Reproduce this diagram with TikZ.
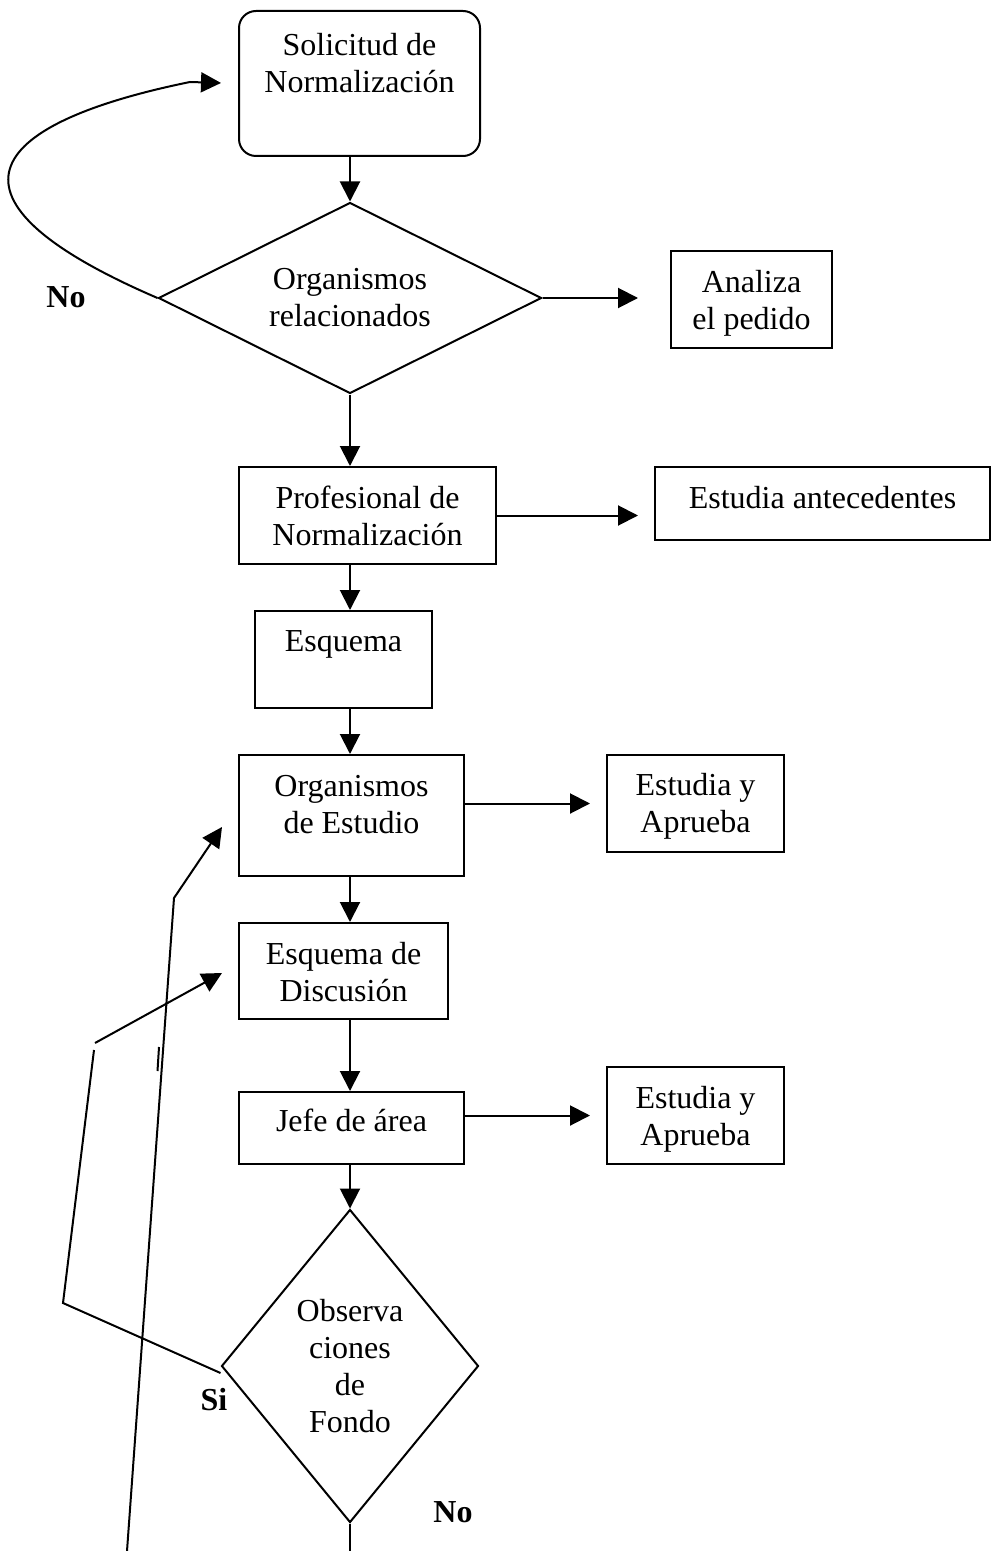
\documentclass[tikz,border=0pt]{standalone}
\usepackage{fontspec}
\setmainfont{Liberation Serif}
\usetikzlibrary{arrows.meta,shapes.geometric}

% box text: width, height, first baseline, lines
\newcommand{\boxtext}[4]{\parbox[c][#2][t]{#1}{\centering\rule{0pt}{#3}#4}}

\begin{document}
\begin{tikzpicture}[x=0.5pt,y=-0.5pt,
  every node/.style={font=\fontsize{16}{18.5}\selectfont},
  box/.style={draw,rectangle,inner sep=0pt,anchor=north west,line width=1pt},
  decision/.style={draw,diamond,inner sep=0pt,align=center,line width=1pt},
  flow/.style={line width=1pt,-{Triangle[length=10pt,width=10pt]}},
  plain/.style={line width=1pt},
  answer/.style={font=\fontsize{16}{18.5}\selectfont\bfseries}]
  \useasboundingbox (0,0) rectangle (990,1551);

  % main column
  \node[box,rounded corners=8.5pt] (sol) at (238,10) {\boxtext{120.5pt}{72.5pt}{22.5pt}{Solicitud de\\Normalización}};
  \node[decision,shape aspect=2,minimum width=191.5pt,minimum height=95.5pt] (d1) at (350,298) {Organismos\\relacionados};
  \node[box] (prof) at (238,466) {\boxtext{128.5pt}{48.5pt}{20.5pt}{Profesional de\\Normalización}};
  \node[box] (esq) at (254,610) {\boxtext{88.5pt}{48.5pt}{20pt}{Esquema}};
  \node[box] (orgE) at (238,754) {\boxtext{112.5pt}{60.5pt}{20.5pt}{Organismos\\de Estudio}};
  \node[box] (disc) at (238,922) {\boxtext{104.5pt}{48pt}{20.5pt}{Esquema de\\Discusión}};
  \node[box] (jefe) at (238,1091) {\boxtext{112.5pt}{36pt}{19.5pt}{Jefe de área}};
  \node[decision,shape aspect=0.82,minimum width=128.5pt,minimum height=156.5pt] (d2) at (350,1366) {Observa\\ciones\\de\\Fondo};

  % side boxes
  \node[box] (ana) at (670,250) {\boxtext{80.5pt}{48.5pt}{21pt}{Analiza\\el pedido}};
  \node[box] (est1) at (654,466) {\boxtext{167.5pt}{36.5pt}{20.5pt}{Estudia antecedentes}};
  \node[box] (est2) at (606,754) {\boxtext{88.5pt}{48.5pt}{20pt}{Estudia y\\Aprueba}};
  \node[box] (est3) at (606,1066) {\boxtext{88.5pt}{48.5pt}{20.5pt}{Estudia y\\Aprueba}};

  % answers
  \node[answer] (no1) at (66,297) {No};
  \node[answer] (si) at (214,1400) {Si};
  \node[answer] (no2) at (453,1512) {No};

  \coordinate (bend) at (190,82);
  \coordinate (foot) at (127,1551);
  \coordinate (knee) at (174,898);
  \coordinate (tipA) at (222,827);
  \coordinate (siA) at (63,1303);
  \coordinate (siB) at (94,1050);
  \coordinate (siC) at (95,1043);
  \coordinate (tipB) at (222,973);
  \coordinate (tickA) at (159,1047);
  \coordinate (tickB) at (157.5,1071);
  \coordinate (fin) at (350,1551);

  % down the column
  \draw[flow] (sol.south -| d1.north) -- (d1.north);
  \draw[flow] (d1.south) -- (d1.south |- prof.north);
  \draw[flow] (prof.south -| d1.south) -- (esq.north -| d1.south);
  \draw[flow] (esq.south -| d1.south) -- (orgE.north -| d1.south);
  \draw[flow] (orgE.south -| d1.south) -- (disc.north -| d1.south);
  \draw[flow] (disc.south -| d1.south) -- (jefe.north -| d1.south);
  \draw[flow] (jefe.south -| d2.north) -- (d2.north);
  \draw[plain] (d2.south) -- (fin);

  % to the right
  \draw[flow,shorten >=16pt] (d1.east) -- (d1.east -| ana.west);
  \draw[flow,shorten >=8pt] (prof.east) -- (prof.east -| est1.west);
  \draw[flow,shorten >=8pt] (est2.west -| orgE.east) -- (est2.west);
  \draw[flow,shorten >=8pt] (est3.west -| jefe.east) -- (est3.west);

  % back loops
  \draw[flow,shorten >=8.5pt] (d1.west) .. controls (-70,200) and (-20,125) .. (bend) -- (sol.west);
  \draw[flow] (foot) -- (knee) -- (tipA);
  \draw[plain] ([yshift=-3.5pt]d2.west) -- (siA) -- (siB);
  \draw[flow] (siC) -- (tipB);
  \draw[plain] (tickA) -- (tickB);
\end{tikzpicture}
\end{document}
